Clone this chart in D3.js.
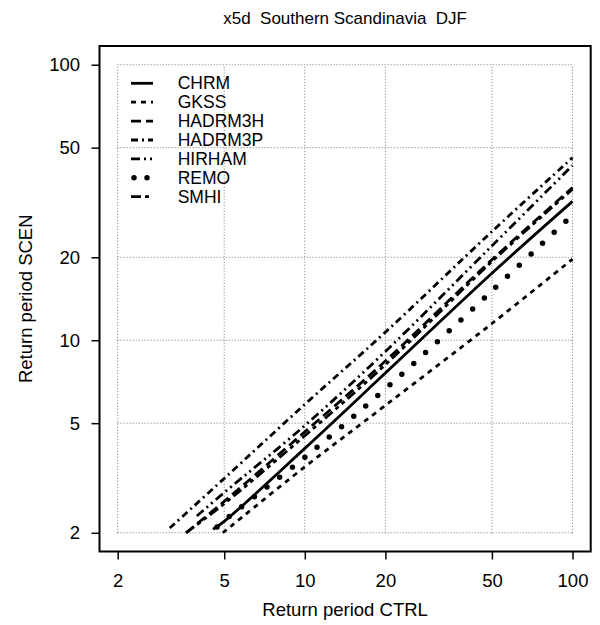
<!DOCTYPE html>
<html>
<head>
<meta charset="utf-8">
<script src="https://cdn.jsdelivr.net/npm/d3@7"></script>
<style>
  body { margin: 0; background: white; }
  text { font-family: "Liberation Sans", Arial, Helvetica, sans-serif; fill: black; }
</style>
</head>
<body>
<div id="chart"><svg></svg></div>
<script>
/*
  Return period SCEN vs CTRL, log-log, one line per regional model
*/

var models = ["CHRM", "GKSS", "HADRM3H", "HADRM3P", "HIRHAM", "REMO", "SMHI"];
var tickValues = [2, 5, 10, 20, 50, 100];

// return periods (CTRL on x, SCEN on y)
var ctrlCHRM = [4.54, 5, 10, 20, 50, 100];
var scenCHRM = [2.06, 2.2, 4.05, 7.6, 17.5, 31.9];
var ctrlGKSS = [4.94, 10, 20, 50, 100];
var scenGKSS = [2.0, 3.47, 5.8, 11.5, 19.7];
var ctrlHADRM3H = [3.6, 5, 10, 20, 50, 100];
var scenHADRM3H = [2.0, 2.6, 4.65, 8.4, 19.6, 35.8];
var ctrlHADRM3P = [3.13, 5, 10, 20, 50, 100];
var scenHADRM3P = [2.08, 3.15, 5.85, 10.7, 24.8, 46];
var ctrlHIRHAM = [3.95, 5, 10, 20, 50, 100];
var scenHIRHAM = [2.3, 2.8, 4.9, 9.1, 22.0, 43.1];
var ctrlREMO = [4.7, 5.25, 10.24, 21.4, 50, 100];
var scenREMO = [2.1, 2.3, 3.83, 7.06, 15.1, 28.5];
var ctrlSMHI = [3.6, 5, 10, 20, 50, 100];
var scenSMHI = [2.0, 2.55, 4.5, 8.15, 19.3, 35.3];

var ctrl = [ctrlCHRM, ctrlGKSS, ctrlHADRM3H, ctrlHADRM3P, ctrlHIRHAM, ctrlREMO, ctrlSMHI];
var scen = [scenCHRM, scenGKSS, scenHADRM3H, scenHADRM3P, scenHIRHAM, scenREMO, scenSMHI];

// line styles, one per model
var styles = {
  CHRM:    {dash: null,            width: 2.8, cap: "butt"},
  GKSS:    {dash: "5,5",           width: 2.8, cap: "butt"},
  HADRM3H: {dash: "10,5",          width: 2.8, cap: "butt"},
  HADRM3P: {dash: "7,4,2,4",       width: 2.8, cap: "butt"},
  HIRHAM:  {dash: "9,4,2,4,2,4",   width: 2.8, cap: "butt"},
  REMO:    {dash: "0,16",          width: 5.5, cap: "round"},
  SMHI:    {dash: "10,4,4,4,4,4",  width: 2.8, cap: "butt"}
};

var margin = {left: 99.5, right: 9.3, top: 46, bottom: 73.5};
var W = 600, H = 625;
var width = W - margin.left - margin.right,
    height = H - margin.top - margin.bottom;

// R style 4% extension of the range on a log scale
var ext = Math.pow(10, 0.04 * Math.log10(100 / 2));

var x = d3.scaleLog().domain([2 / ext, 100 * ext]).range([0, width]),
    y = d3.scaleLog().domain([2 / ext, 100 * ext]).range([height, 0]);

var root = d3.select("svg").attr("width", W).attr("height", H);
var svg = root.append("g")
  .attr("transform", "translate(" + margin.left + "," + margin.top + ")");

//Dotted grid
tickValues.forEach(function(t){
  svg.append("line")
    .attr("x1", x(2)).attr("x2", x(100))
    .attr("y1", y(t)).attr("y2", y(t))
    .style("stroke", "#777").style("stroke-width", 1).style("stroke-dasharray", "1,2");
  svg.append("line")
    .attr("x1", x(t)).attr("x2", x(t))
    .attr("y1", y(2)).attr("y2", y(100))
    .style("stroke", "#777").style("stroke-width", 1).style("stroke-dasharray", "1,2");
});

//Model lines
var line = d3.line()
  .x(function(d){ return x(d[0]); })
  .y(function(d){ return y(d[1]); })
  .curve(d3.curveCatmullRom.alpha(0.5));

models.forEach(function(m, i){
  var pts = ctrl[i].map(function(c, j){ return [c, scen[i][j]]; });
  var s = styles[m];
  svg.append("path")
    .datum(pts)
    .attr("d", line)
    .style("fill", "none")
    .style("stroke", "black")
    .style("stroke-width", s.width)
    .style("stroke-linecap", s.cap)
    .style("stroke-dasharray", s.dash);
});

//Axes
var fmt = d3.format("d");
var yAxis = svg.append("g")
  .call(d3.axisLeft(y).tickValues(tickValues).tickFormat(fmt).tickSize(8).tickPadding(11.5));
var xAxis = svg.append("g")
  .attr("transform", "translate(0," + height + ")")
  .call(d3.axisBottom(x).tickValues(tickValues).tickFormat(fmt).tickSize(8).tickPadding(14.5));

[xAxis, yAxis].forEach(function(a){
  a.select(".domain").remove();
  a.selectAll("line").style("stroke", "black").style("stroke-width", 1.5);
  a.selectAll("text")
    .style("font-family", "'Liberation Sans', Arial, sans-serif")
    .style("font-size", "18.5px")
    .style("fill", "black");
});

//Box
svg.append("rect")
  .attr("x", 0).attr("y", 0)
  .attr("width", width).attr("height", height)
  .style("fill", "none").style("stroke", "black").style("stroke-width", 2);

//Legend
var legend = svg.append("g").attr("transform", "translate(" + (131 - margin.left) + "," + (83.3 - margin.top) + ")");
models.forEach(function(m, i){
  var s = styles[m];
  var row = legend.append("g").attr("transform", "translate(0," + (i * 18.9) + ")");
  row.append("line")
    .attr("x1", m == "REMO" ? 3 : 0).attr("x2", m == "REMO" ? 16.5 : 22)
    .attr("y1", 0).attr("y2", 0)
    .style("stroke", "black")
    .style("stroke-width", s.width)
    .style("stroke-linecap", s.cap)
    .style("stroke-dasharray", m == "REMO" ? "0,13" : s.dash);
  row.append("text")
    .attr("x", 46.7)
    .attr("dy", "0.35em")
    .style("font-size", "17.5px")
    .text(m);
});

//Title
root.append("text")
  .attr("x", margin.left + width / 2)
  .attr("y", 24)
  .style("text-anchor", "middle")
  .style("font-size", "17px")
  .style("white-space", "pre")
  .text("x5d  Southern Scandinavia  DJF");

//Label for X axis
root.append("text")
  .attr("x", margin.left + width / 2)
  .attr("y", 616)
  .style("text-anchor", "middle")
  .style("font-size", "18.5px")
  .text("Return period CTRL");

//Label for Y axis
root.append("text")
  .attr("transform", "rotate(-90)")
  .attr("x", -(margin.top + height / 2))
  .attr("y", 32)
  .style("text-anchor", "middle")
  .style("font-size", "18.5px")
  .text("Return period SCEN");
</script>
</body>
</html>
